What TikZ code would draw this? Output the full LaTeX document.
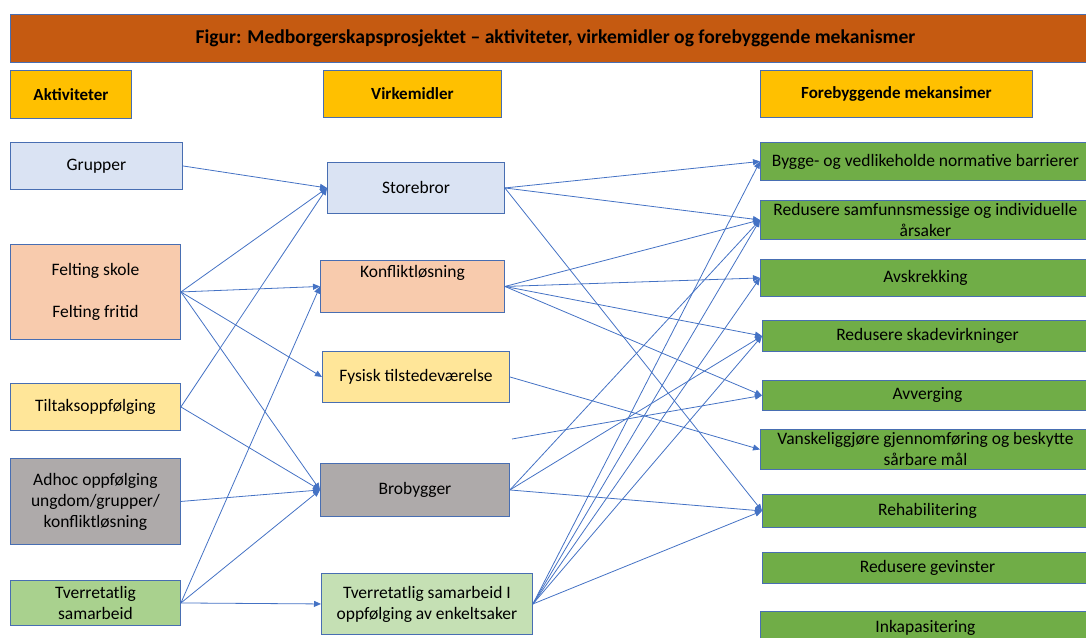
\documentclass[tikz,border=0pt]{standalone}
\usepackage{fontspec}
\setmainfont{Carlito}
\usetikzlibrary{arrows.meta}
\definecolor{boxline}{RGB}{72,110,178}
\definecolor{linkblue}{RGB}{68,114,196}
\definecolor{titlebrown}{RGB}{197,90,17}
\definecolor{headyellow}{RGB}{255,192,0}
\definecolor{lightblue}{RGB}{218,227,243}
\definecolor{peach}{RGB}{248,203,173}
\definecolor{paleyellow}{RGB}{255,230,153}
\definecolor{greybox}{RGB}{174,170,170}
\definecolor{leafgreen}{RGB}{169,209,142}
\definecolor{palegreen}{RGB}{197,224,180}
\definecolor{mechgreen}{RGB}{112,173,71}
\tikzset{
	box/.style = {draw=boxline, line width=0.9pt, anchor=north west, align=center,
		inner sep=1pt, font=\fontsize{17.5}{21}\selectfont},
	head/.style = {box, fill=headyellow, font=\bfseries\fontsize{17}{21}\selectfont},
	mech/.style = {box, fill=mechgreen, minimum width=330},
	link/.style = {draw=linkblue, line width=0.8pt, -{Triangle[length=7pt,width=6pt]}}
}

\begin{document}
\begin{tikzpicture}[x=1pt, y=-1pt]
	\useasboundingbox (0,0) rectangle (1086,637);
	% ====== Title and headings ========
	\node[box, fill=titlebrown, minimum width=1090, minimum height=48,
		font=\bfseries\fontsize{19.6}{23}\selectfont] (title) at (10,14)
		{Figur: Medborgerskapsprosjektet -- aktiviteter, virkemidler og forebyggende mekanismer};
	\node[head, minimum width=121, minimum height=48] (hakt) at (10,70) {Aktiviteter};
	\node[head, minimum width=178, minimum height=47] (hvirk) at (323,70) {Virkemidler};
	\node[head, minimum width=272, minimum height=47] (hmek) at (760,70) {Forebyggende mekansimer};
	% ====== Aktiviteter ========
	\node[box, fill=lightblue, minimum width=172, minimum height=47] (grupper) at (10,142) {Grupper};
	\node[box, fill=peach, minimum width=170, minimum height=95] (felting) at (10,244)
		{Felting skole\\[21pt]Felting fritid};
	\node[box, fill=paleyellow, minimum width=170, minimum height=47] (tiltak) at (10,383) {Tiltaksoppfølging};
	\node[box, fill=greybox, minimum width=170, minimum height=86] (adhoc) at (10,458)
		{Adhoc oppfølging\\ungdom/grupper/\\konfliktløsning};
	\node[box, fill=leafgreen, minimum width=170, minimum height=45] (tverr) at (10,580)
		{Tverretatlig\\samarbeid};
	% ====== Virkemidler ========
	\node[box, fill=lightblue, minimum width=177, minimum height=51] (storebror) at (327,162) {Storebror};
	\node[box, fill=peach, minimum width=184, minimum height=52] (konflikt) at (320,260)
		{Konfliktløsning\\[2pt] \strut};
	\node[box, fill=paleyellow, minimum width=187, minimum height=51] (fysisk) at (322,351) {Fysisk tilstedeværelse};
	\node[box, fill=greybox, minimum width=189, minimum height=53] (brobygger) at (320,463) {Brobygger};
	\node[box, fill=palegreen, minimum width=211, minimum height=61] (tverrsak) at (321,573)
		{Tverretatlig samarbeid I\\oppfølging av enkeltsaker};
	% ====== Mekanismer ========
	\node[mech, minimum height=38] (bygge) at (760,142) {Bygge- og vedlikeholde normative barrierer};
	\node[mech, minimum height=39] (aarsak) at (760,200)
		{Redusere samfunnsmessige og individuelle\\årsaker};
	\node[mech, minimum height=37] (avskrekk) at (760,259) {Avskrekking};
	\node[mech, minimum height=31] (skade) at (762,320) {Redusere skadevirkninger};
	\node[mech, minimum height=30] (avverg) at (762,380) {Avverging};
	\node[mech, minimum height=40] (vansk) at (760,429)
		{Vanskeliggjøre gjennomføring og beskytte\\sårbare mål};
	\node[mech, minimum height=33] (rehab) at (762,494) {Rehabilitering};
	\node[mech, minimum height=31] (gevinst) at (762,552) {Redusere gevinster};
	\node[mech, minimum height=32] (inkap) at (760,611) {Inkapasitering};
	% ====== Connectors ========
	\foreach \a/\b in {grupper/storebror, felting/storebror, felting/konflikt, felting/fysisk,
		felting/brobygger, tiltak/storebror, tiltak/brobygger, adhoc/brobygger,
		tverr/konflikt, tverr/brobygger, tverr/tverrsak}
		{\draw[link] (\a.east) -- (\b.west);}
	\foreach \a/\b in {storebror/bygge, storebror/aarsak, storebror/rehab,
		konflikt/aarsak, konflikt/avskrekk, konflikt/skade, konflikt/avverg,
		fysisk/vansk, brobygger/aarsak, brobygger/skade, brobygger/rehab,
		tverrsak/bygge, tverrsak/aarsak, tverrsak/avskrekk, tverrsak/skade, tverrsak/rehab}
		{\draw[link] (\a.east) -- (\b.west);}
	\coordinate (loose) at (512,439);
	\draw[link] (loose) -- (avverg.west);
\end{tikzpicture}
\end{document}
